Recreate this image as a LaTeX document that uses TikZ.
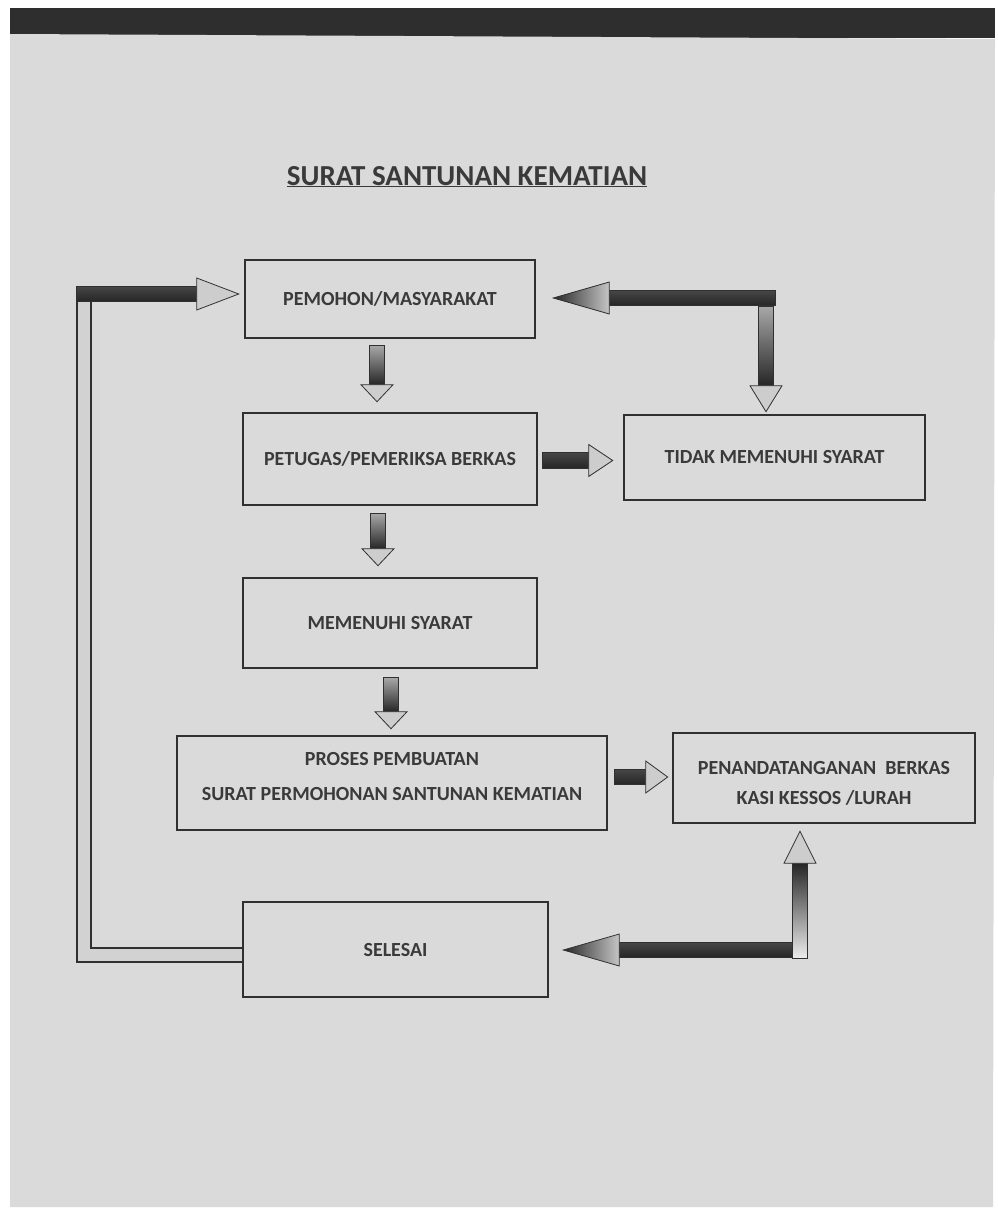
\documentclass[tikz,border=0pt]{standalone}
\usepackage{fontspec}
\setmainfont{Carlito}
\usetikzlibrary{calc}
\definecolor{paper}{HTML}{DADADA}
\definecolor{ink}{HTML}{303030}
\definecolor{txt}{HTML}{3A3A3A}
\definecolor{dk}{HTML}{262626}
\definecolor{lt}{HTML}{A8A8A8}
\definecolor{hd}{HTML}{CDCDCD}
\tikzset{
  box/.style={draw=ink, line width=2.6pt, font=\bfseries\fontsize{20}{24}\selectfont, text=txt, align=center, inner sep=0pt},
  shaftV/.style={draw=ink, line width=0.7pt, top color=lt, bottom color=dk},
  shaftU/.style={draw=ink, line width=0.7pt, top color=dk, bottom color=gray!15},
  shaftH/.style={draw=ink, line width=0.7pt, top color=gray!55!black, bottom color=dk},
  headS/.style={draw=ink, line width=0.8pt, fill=hd},
  headL/.style={draw=ink, line width=0.8pt, left color=dk, right color=gray!45},
  loopline/.style={draw=ink, line width=1.8pt, double=gray!35, double distance=12pt, line join=miter},
}
\newcommand{\aSW}{7.5}
\newcommand{\aHW}{16}
% #1 tail coordinate, #2 tip coordinate, #3 head length
\newcommand{\ArrDown}[3]{%
  \path[shaftV] ($(#1)+(-\aSW,0)$) rectangle ($(#2)+(\aSW,-#3)$);
  \path[headS] ($(#2)+(-\aHW,-#3)$) -- (#2) -- ($(#2)+(\aHW,-#3)$) -- cycle;}
\newcommand{\ArrUp}[3]{%
  \path[shaftU] ($(#1)+(-\aSW,0)$) rectangle ($(#2)+(\aSW,#3)$);
  \path[headS] ($(#2)+(-\aHW,#3)$) -- (#2) -- ($(#2)+(\aHW,#3)$) -- cycle;}
\newcommand{\ArrRight}[3]{%
  \path[shaftH] ($(#1)+(0,-\aSW)$) rectangle ($(#2)+(-#3,\aSW)$);
  \path[headS] ($(#2)+(-#3,-\aHW)$) -- (#2) -- ($(#2)+(-#3,\aHW)$) -- cycle;}
\newcommand{\ArrLeft}[3]{%
  \path[shaftH] ($(#1)+(0,-\aSW)$) rectangle ($(#2)+(#3,\aSW)$);
  \path[headL] ($(#2)+(#3,-\aHW)$) -- (#2) -- ($(#2)+(#3,\aHW)$) -- cycle;}
\begin{document}
\begin{tikzpicture}[x=1pt,y=-1pt]
\useasboundingbox (0,0) rectangle (998,1215);
\fill[white] (0,0) rectangle (998,1215);
\fill[black!82] (10,8) rectangle (995,38);
\fill[paper] (10,34) -- (995,39) -- (993,1207) -- (10,1207) -- cycle;

\node[font=\bfseries\fontsize{29}{32}\selectfont, text=txt, anchor=base] (title) at (467,185) {\underline{SURAT SANTUNAN KEMATIAN}};

\node[box, minimum width=290pt, minimum height=78pt] (pem) at (390,299) {PEMOHON/MASYARAKAT};
\node[box, minimum width=294pt, minimum height=92pt] (pet) at (390,459) {PETUGAS/PEMERIKSA BERKAS};
\node[box, minimum width=301pt, minimum height=85pt] (tid) at (774.5,457.5) {TIDAK MEMENUHI SYARAT};
\node[box, minimum width=294pt, minimum height=90pt] (mem) at (390,623) {MEMENUHI SYARAT};
\node[box, minimum width=430pt, minimum height=94pt] (pro) at (392,783) {\raisebox{0pt}[0pt][0pt]{\begin{tabular}{@{}c@{}}PROSES PEMBUATAN\\[11pt]SURAT PERMOHONAN SANTUNAN KEMATIAN\end{tabular}}};
\node[box, minimum width=302pt, minimum height=90pt] (pen) at (824,778) {\raisebox{-12pt}[0pt][0pt]{\begin{tabular}{@{}c@{}}PENANDATANGANAN\ \ BERKAS\\[6pt]KASI KESSOS /LURAH\end{tabular}}};
\node[box, minimum width=305pt, minimum height=95pt] (sel) at (395.5,949.5) {SELESAI};

% vertical flow arrows
\coordinate (a1s) at ($(pem.south)+(-13,6)$);
\coordinate (a1e) at ($(pet.north)+(-13,-10)$);
\ArrDown{a1s}{a1e}{17}
\coordinate (a2s) at ($(pet.south)+(-12,7)$);
\coordinate (a2e) at ($(mem.north)+(-12,-11)$);
\ArrDown{a2s}{a2e}{17}
\coordinate (a3s) at ($(mem.south)+(1,8)$);
\coordinate (a3e) at ($(pro.north)+(-1,-6)$);
\ArrDown{a3s}{a3e}{17}

% horizontal flow arrows
\coordinate (b1s) at ($(pet.east)+(4,1)$);
\coordinate (b1e) at ($(tid.west)+(-10,3)$);
\ArrRight{b1s}{b1e}{24}
\coordinate (b2s) at ($(pro.east)+(6,-6)$);
\coordinate (b2e) at ($(pen.west)+(-4,-1)$);
\ArrRight{b2s}{b2e}{22}

% return from TIDAK MEMENUHI SYARAT
\coordinate (trc) at (766,298);
\coordinate (c1s) at ($(trc)+(9,0)$);
\coordinate (c1e) at ($(pem.east)+(17,-1)$);
\coordinate (c2s) at ($(trc)+(0,8)$);
\coordinate (c2e) at ($(tid.north)+(-8.5,-2)$);
\ArrDown{c2s}{c2e}{26}
\ArrLeft{c1s}{c1e}{56}

% from PENANDATANGANAN to SELESAI
\coordinate (brc) at (800,950);
\coordinate (d1s) at ($(brc)+(0,8)$);
\coordinate (d1e) at ($(pen.south)+(-24,7)$);
\coordinate (d2s) at ($(brc)+(0,0)$);
\coordinate (d2e) at ($(sel.east)+(14,0.5)$);
\ArrLeft{d2s}{d2e}{56}
\ArrUp{d1s}{d1e}{32}

% loop from SELESAI back to PEMOHON
\coordinate (lb) at ($(sel.west)+(0,5.5)$);
\coordinate (lc) at (84,294);
\draw[loopline] (lb) -| ($(lc)+(0,6)$);
\coordinate (e1s) at ($(lc)+(-8,0)$);
\coordinate (e1e) at ($(pem.west)+(-5,-5)$);
\ArrRight{e1s}{e1e}{42}
\end{tikzpicture}
\end{document}
